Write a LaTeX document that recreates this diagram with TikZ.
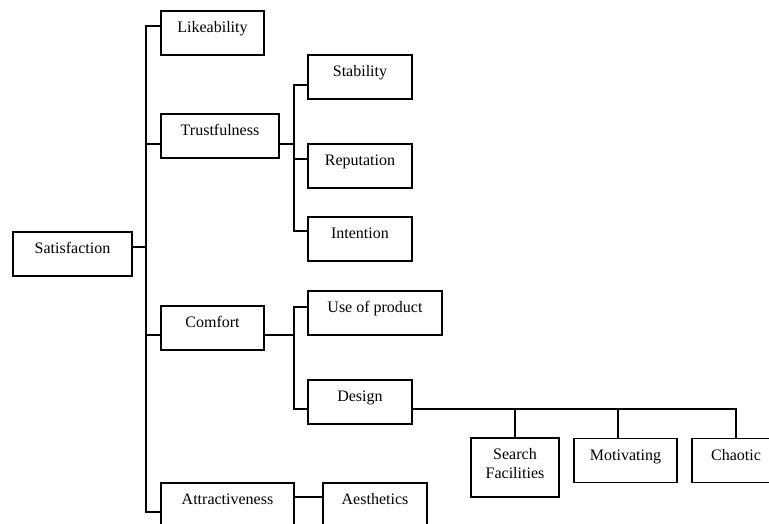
\documentclass[tikz,border=0pt]{standalone}
\usepackage{fontspec}
\setmainfont{Liberation Serif}
\begin{document}
\begin{tikzpicture}[x=1pt,y=-1pt,
  box/.style={draw, line width=1.8pt, minimum height=44pt, inner sep=0pt},
  txt/.style={anchor=base, inner sep=0pt, font=\fontsize{16}{19}\selectfont, align=center},
  conn/.style={line width=1.8pt}]
\useasboundingbox (0,0) rectangle (769,524);
\clip (0,0) rectangle (769,524);
% boxes
\node[box, minimum width=119pt] (sat) at (72.5,254) {};
\node[box, minimum width=103pt] (lik) at (212.5,33) {};
\node[box, minimum width=118pt] (tru) at (220,136) {};
\node[box, minimum width=103pt] (com) at (212.5,328) {};
\node[box, minimum width=133pt] (att) at (227.5,505) {};
\node[box, minimum width=104pt] (sta) at (360,77) {};
\node[box, minimum width=104pt] (rep) at (360,166) {};
\node[box, minimum width=104pt] (int) at (360,239) {};
\node[box, minimum width=134pt] (use) at (375,313) {};
\node[box, minimum width=104pt] (des) at (360,402) {};
\node[box, minimum width=104pt] (aes) at (375,505) {};
\node[box, minimum width=88pt, minimum height=59pt] (sea) at (515,467.5) {};
\node[box, minimum width=103pt] (mot) at (625.5,460.5) {};
\node[box, minimum width=88pt] (cha) at (736,460.5) {};
% texts
\node[txt] (satT) at ([yshift=-22.5pt]sat.north) {Satisfaction};
\node[txt] (likT) at ([yshift=-22.5pt]lik.north) {Likeability};
\node[txt] (truT) at ([yshift=-22.5pt]tru.north) {Trustfulness};
\node[txt] (comT) at ([yshift=-22.5pt]com.north) {Comfort};
\node[txt] (attT) at ([yshift=-22.5pt]att.north) {Attractiveness};
\node[txt] (staT) at ([yshift=-22.5pt]sta.north) {Stability};
\node[txt] (repT) at ([yshift=-22.5pt]rep.north) {Reputation};
\node[txt] (intT) at ([yshift=-22.5pt]int.north) {Intention};
\node[txt] (useT) at ([yshift=-22.5pt]use.north) {Use of product};
\node[txt] (desT) at ([yshift=-22.5pt]des.north) {Design};
\node[txt] (aesT) at ([yshift=-22.5pt]aes.north) {Aesthetics};
\node[txt] (seaT) at ([yshift=-22pt]sea.north) {Search};
\node[txt] (seaT2) at ([yshift=-41pt]sea.north) {Facilities};
\node[txt] (motT) at ([yshift=-22.5pt]mot.north) {Motivating};
\node[txt] (chaT) at ([yshift=-22.5pt]cha.north) {Chaotic};
% bus coordinates
\coordinate (m) at (146,0);
\coordinate (t) at (294,0);
% connection points
\coordinate (likC) at ([yshift=7pt]lik.west);
\coordinate (truC) at ([yshift=-8pt]tru.west);
\coordinate (comC) at ([yshift=-7pt]com.west);
\coordinate (attC) at ([yshift=-7pt]att.west);
\coordinate (satC) at ([yshift=7pt]sat.east);
% main bus
\draw[conn] (likC) -| (attC -| m) -- (attC);
\draw[conn] (satC) -- (satC -| m);
\draw[conn] (truC) -- (truC -| m);
\draw[conn] (comC) -- (comC -| m);
% trustfulness bus
\coordinate (staC) at ([yshift=-8pt]sta.west);
\coordinate (repC) at ([yshift=7pt]rep.west);
\coordinate (intC) at ([yshift=8pt]int.west);
\coordinate (truE) at ([yshift=-8pt]tru.east);
\draw[conn] (staC) -| (intC -| t) -- (intC);
\draw[conn] (truE) -- (truE -| t);
\draw[conn] (repC) -- (repC -| t);
% comfort bus
\coordinate (useC) at ([yshift=6pt]use.west);
\coordinate (desC) at ([yshift=-7pt]des.west);
\coordinate (comE) at ([yshift=-7pt]com.east);
\draw[conn] (useC) -| (desC -| t) -- (desC);
\draw[conn] (comE) -- (comE -| t);
% design bus
\coordinate (desE) at ([yshift=-7pt]des.east);
\coordinate (motC) at ([xshift=-7.5pt]mot.north);
\draw[conn] (desE) -| (cha.north);
\draw[conn] (sea.north) -- (sea.north |- desE);
\draw[conn] (motC) -- (motC |- desE);
% attractiveness -> aesthetics
\coordinate (attE) at ([yshift=8pt]att.east);
\draw[conn] (attE) -- (attE -| aes.west);
\end{tikzpicture}
\end{document}
